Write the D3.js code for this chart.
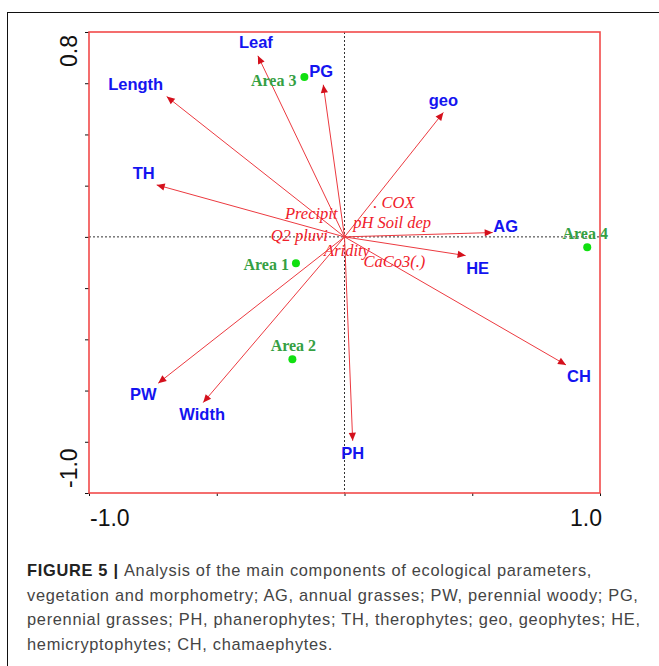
<!DOCTYPE html>
<html>
<head>
<meta charset="utf-8">
<script src="https://cdn.jsdelivr.net/npm/d3@7"></script>
<style>
  html, body { margin: 0; padding: 0; background: #fff; }
  svg { display: block; }
</style>
</head>
<body>
<svg id="chart" width="659" height="666"></svg>
<script>
// Species / morphometry vectors (biplot scores on axes 1 and 2)
const speciesNames = ["Leaf", "Length", "TH", "PG", "geo", "AG", "HE", "CH", "PH", "PW", "Width"];
const speciesX = [-0.339, -0.696, -0.735, -0.083, 0.387, 0.580, 0.474, 0.867, 0.032, -0.729, -0.553];
const speciesY = [0.707, 0.548, 0.203, 0.594, 0.486, 0.017, -0.073, -0.500, -0.796, -0.571, -0.647];

// Sampling areas (site scores)
const siteNames = ["Area 3", "Area 1", "Area 2", "Area 4"];
const siteX = [-0.157, -0.190, -0.204, 0.950];
const siteY = [0.624, -0.103, -0.478, -0.040];

// Ecological parameters clustered near the origin
const envNames = ["Precipit", ". COX", "pH Soil dep", "Q2 pluvi", "Aridity", "CaCo3(.)"];
const envX = [-0.233, 0.113, 0.034, -0.289, -0.080, 0.074];
const envY = [0.069, 0.113, 0.036, -0.018, -0.074, -0.116];

// Axis ticks
const xTicks = [-1.0, -0.5, 0, 0.5, 1.0];
const yTicks = [-1.0, -0.8, -0.6, -0.4, -0.2, 0, 0.2, 0.4, 0.6, 0.8];
const xTickLabels = ["-1.0", "1.0"];
const yTickLabels = ["0.8", "-1.0"];

const captionLines = [
  [{ t: "FIGURE 5 | ", b: true }, { t: "Analysis of the main components of ecological parameters," }],
  [{ t: "vegetation and morphometry; AG, annual grasses; PW, perennial woody; PG," }],
  [{ t: "perennial grasses; PH, phanerophytes; TH, therophytes; geo, geophytes; HE," }],
  [{ t: "hemicryptophytes; CH, chamaephytes." }]
];

// Label placement around arrow tips / site points (px)
const speciesLabelOffset = {
  "Leaf": [-2, -8], "Length": [-31, -7], "TH": [-13, -6], "PG": [-2, -8],
  "geo": [0, -6], "AG": [13, -1], "HE": [12, 18], "CH": [13, 17],
  "PH": [0, 18], "PW": [-15, 17], "Width": [-1, 17]
};
const siteLabelOffset = {
  "Area 3": [-8, 9, "end"], "Area 1": [-7, 7, "end"],
  "Area 2": [1, -8, "middle"], "Area 4": [-2, -8, "middle"]
};

const svg = d3.select("#chart");

// Outer figure frame
svg.append("rect")
  .attr("x", 7.5).attr("y", 12.5)
  .attr("width", 700).attr("height", 700)
  .attr("fill", "none").attr("stroke", "#111").attr("stroke-width", 1);

const plotL = 89, plotR = 600, plotT = 32, plotB = 493;
const x = d3.scaleLinear().domain([-1, 1]).range([plotL, plotR]);
const y = d3.scaleLinear().domain([-1.0, 0.8]).range([plotB, plotT]);

// Zero reference lines
svg.append("line")
  .attr("x1", plotL).attr("x2", plotR).attr("y1", y(0)).attr("y2", y(0))
  .attr("stroke", "#333").attr("stroke-width", 1).attr("stroke-dasharray", "2,2");
svg.append("line")
  .attr("x1", x(0)).attr("x2", x(0)).attr("y1", plotT).attr("y2", plotB)
  .attr("stroke", "#333").attr("stroke-width", 1).attr("stroke-dasharray", "2,2");

// Axes (ticks only; frame drawn separately)
const gx = svg.append("g").attr("transform", `translate(0,${plotB})`)
  .call(d3.axisBottom(x).tickValues(xTicks).tickSize(3).tickFormat(""));
const gy = svg.append("g").attr("transform", `translate(${plotL},0)`)
  .call(d3.axisLeft(y).tickValues(yTicks).tickSize(4).tickFormat(""));
[gx, gy].forEach(g => {
  g.select(".domain").remove();
  g.selectAll(".tick line").attr("stroke", "#111").attr("stroke-width", 1);
});

// Plot frame
svg.append("rect")
  .attr("x", plotL).attr("y", plotT)
  .attr("width", plotR - plotL).attr("height", plotB - plotT)
  .attr("fill", "none").attr("stroke", "#f24a4a").attr("stroke-width", 1.6);

// Axis end labels
const axisFont = "'Liberation Sans', Arial, sans-serif";
svg.append("text").text(xTickLabels[0])
  .attr("x", x(-1) + 1).attr("y", 526).attr("text-anchor", "start")
  .attr("font-family", axisFont).attr("font-size", 23).attr("fill", "#111");
svg.append("text").text(xTickLabels[1])
  .attr("x", x(1) + 2).attr("y", 526).attr("text-anchor", "end")
  .attr("font-family", axisFont).attr("font-size", 23).attr("fill", "#111");
svg.append("text").text(yTickLabels[0])
  .attr("transform", `translate(77,${y(0.8) + 3}) rotate(-90)`).attr("text-anchor", "end")
  .attr("font-family", axisFont).attr("font-size", 23).attr("fill", "#111");
svg.append("text").text(yTickLabels[1])
  .attr("transform", `translate(77,${y(-1.0) - 5}) rotate(-90)`).attr("text-anchor", "start")
  .attr("font-family", axisFont).attr("font-size", 23).attr("fill", "#111");

// Arrowhead marker
svg.append("defs").append("marker")
  .attr("id", "head")
  .attr("viewBox", "0 0 10 10")
  .attr("refX", 10).attr("refY", 5)
  .attr("markerUnits", "userSpaceOnUse")
  .attr("markerWidth", 10).attr("markerHeight", 8)
  .attr("orient", "auto")
  .append("path").attr("d", "M0,0.5 L10,5 L0,9.5 Z").attr("fill", "#d4101c");

// Species vectors
const species = speciesNames.map((n, i) => ({ name: n, vx: speciesX[i], vy: speciesY[i] }));
svg.append("g").selectAll("line").data(species).join("line")
  .attr("x1", x(0)).attr("y1", y(0))
  .attr("x2", d => x(d.vx)).attr("y2", d => y(d.vy))
  .attr("stroke", "#ec3a40").attr("stroke-width", 1)
  .attr("marker-end", "url(#head)");

svg.append("g").selectAll("text").data(species).join("text")
  .text(d => d.name)
  .attr("x", d => x(d.vx) + speciesLabelOffset[d.name][0])
  .attr("y", d => y(d.vy) + speciesLabelOffset[d.name][1])
  .attr("text-anchor", "middle")
  .attr("font-family", axisFont).attr("font-weight", "bold").attr("font-size", 16.5)
  .attr("fill", "#1414f0");

// Ecological parameter labels
const env = envNames.map((n, i) => ({ name: n, vx: envX[i], vy: envY[i] }));
svg.append("g").selectAll("text").data(env).join("text")
  .text(d => d.name)
  .attr("x", d => x(d.vx)).attr("y", d => y(d.vy))
  .attr("font-family", "'Liberation Serif', 'Times New Roman', serif")
  .attr("font-style", "italic").attr("font-size", 16.5)
  .attr("fill", "#f0202a");

// Sites
const sites = siteNames.map((n, i) => ({ name: n, vx: siteX[i], vy: siteY[i] }));
svg.append("g").selectAll("circle").data(sites).join("circle")
  .attr("cx", d => x(d.vx)).attr("cy", d => y(d.vy)).attr("r", 4)
  .attr("fill", "#10e010");
svg.append("g").selectAll("text").data(sites).join("text")
  .text(d => d.name)
  .attr("x", d => x(d.vx) + siteLabelOffset[d.name][0])
  .attr("y", d => y(d.vy) + siteLabelOffset[d.name][1])
  .attr("text-anchor", d => siteLabelOffset[d.name][2])
  .attr("font-family", "'Liberation Serif', 'Times New Roman', serif")
  .attr("font-weight", "bold").attr("font-size", 16)
  .attr("fill", "#35a043");

// Caption
const cap = svg.append("g").attr("font-family", "'Liberation Sans', Arial, sans-serif")
  .attr("font-size", 16.4).attr("letter-spacing", 0.7).attr("fill", "#444");
captionLines.forEach((line, i) => {
  const t = cap.append("text").attr("x", 27).attr("y", 576 + i * 24.7);
  line.forEach(seg => {
    t.append("tspan").text(seg.t)
      .attr("font-weight", seg.b ? "bold" : "normal")
      .attr("fill", seg.b ? "#222" : "#444");
  });
});
</script>
</body>
</html>
